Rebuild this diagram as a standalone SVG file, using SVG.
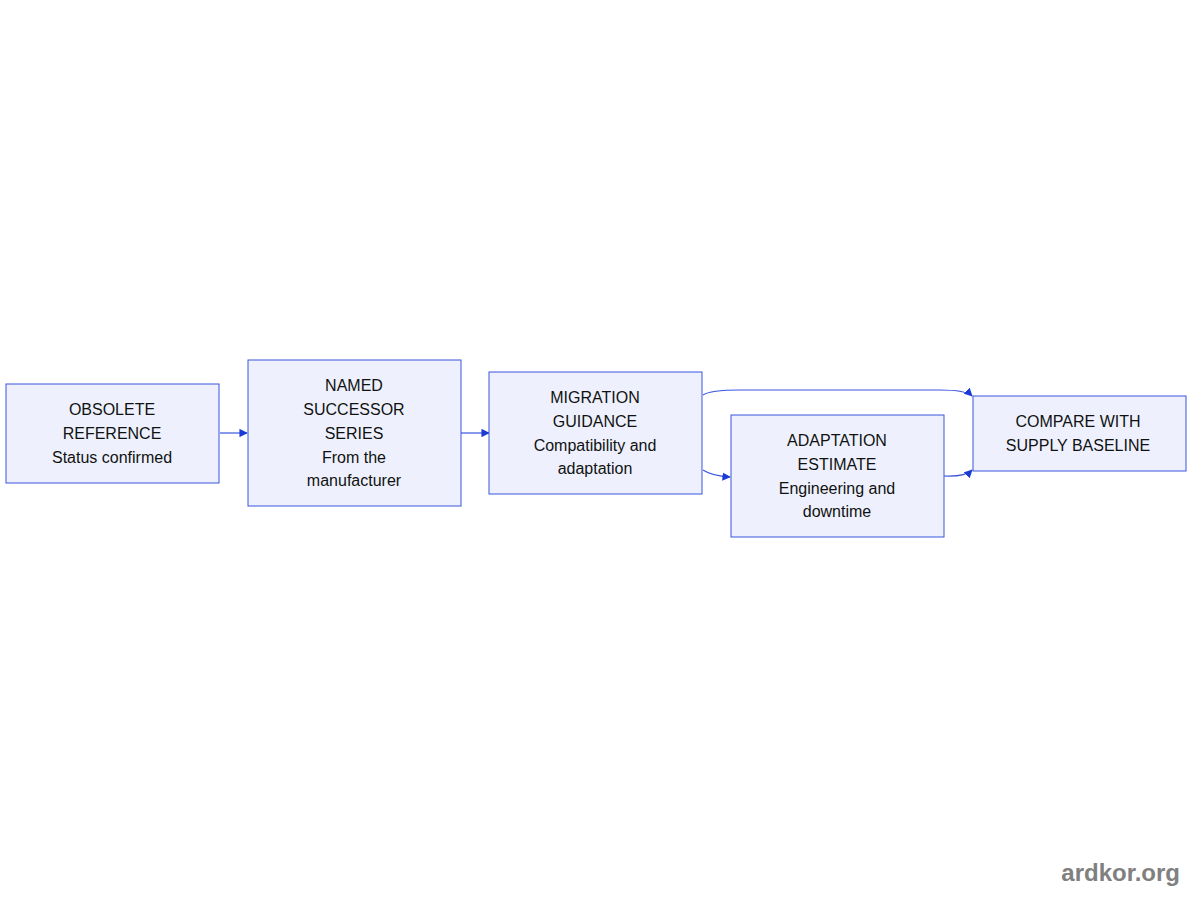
<svg xmlns="http://www.w3.org/2000/svg" width="1200" height="900" viewBox="0 0 1200 900">
<style>
.n{fill:#eef1fd;stroke:#3b55e0;stroke-width:1}
.t{font-family:"Liberation Sans",Arial,sans-serif;font-size:16px;fill:#111;text-anchor:middle}
.e{fill:none;stroke:#3b55e0;stroke-width:1.2}
</style>
<defs><marker id="a" viewBox="0 0 10 10" refX="9" refY="5" markerWidth="7" markerHeight="7" orient="auto"><path d="M0,0L10,5L0,10z" fill="#1a3bd6"/></marker></defs>
<rect width="1200" height="900" fill="#fff"/>
<g id="connectors">
<path class="e" d="M220,433H247" marker-end="url(#a)"/>
<path class="e" d="M461,433H489" marker-end="url(#a)"/>
<path class="e" d="M703,395Q710,390 740,390H940Q966,390 972,396" marker-end="url(#a)"/>
<path class="e" d="M703,470Q712,476 730,477" marker-end="url(#a)"/>
<path class="e" d="M944,476Q965,477 972,470" marker-end="url(#a)"/>
</g>
<g id="n1"><rect class="n" x="6" y="384" width="213" height="99"/>
<text class="t" x="112" y="415">OBSOLETE</text><text class="t" x="112" y="439">REFERENCE</text><text class="t" x="112" y="463">Status confirmed</text></g>
<g id="n2"><rect class="n" x="248" y="360" width="213" height="146"/>
<text class="t" x="354" y="391">NAMED</text><text class="t" x="354" y="415">SUCCESSOR</text><text class="t" x="354" y="439">SERIES</text><text class="t" x="354" y="463">From the</text><text class="t" x="354" y="486">manufacturer</text></g>
<g id="n3"><rect class="n" x="489" y="372" width="213" height="122"/>
<text class="t" x="595" y="403">MIGRATION</text><text class="t" x="595" y="427">GUIDANCE</text><text class="t" x="595" y="451">Compatibility and</text><text class="t" x="595" y="474">adaptation</text></g>
<g id="n4"><rect class="n" x="731" y="415" width="213" height="122"/>
<text class="t" x="837" y="446">ADAPTATION</text><text class="t" x="837" y="470">ESTIMATE</text><text class="t" x="837" y="494">Engineering and</text><text class="t" x="837" y="517">downtime</text></g>
<g id="n5"><rect class="n" x="973" y="396" width="213" height="75"/>
<text class="t" x="1078" y="427">COMPARE WITH</text><text class="t" x="1078" y="451">SUPPLY BASELINE</text></g>
<text x="1180" y="881" font-family="Liberation Sans,Arial,sans-serif" font-size="24" font-weight="bold" fill="#808080" text-anchor="end">ardkor.org</text>
</svg>
